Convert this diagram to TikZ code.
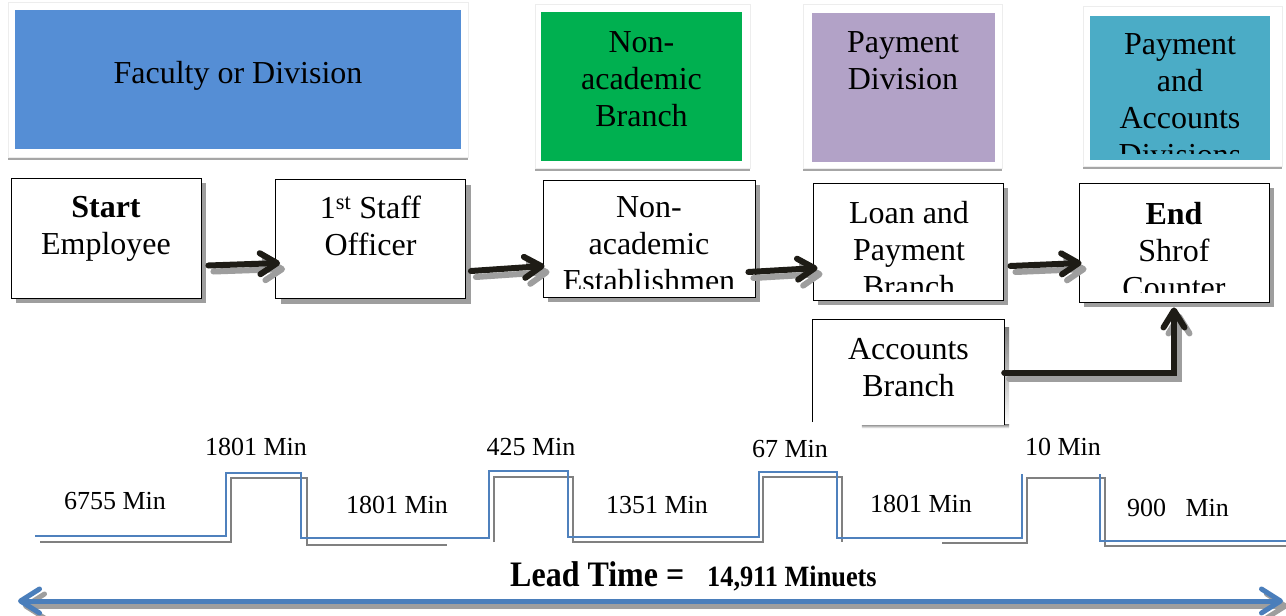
\documentclass[tikz,border=0pt]{standalone}
\usepackage{fontspec}
\usepackage{graphicx}
\setmainfont{Liberation Serif}
\usetikzlibrary{arrows.meta,shadows,calc}

\definecolor{facblue}{RGB}{85,142,213}
\definecolor{nongreen}{RGB}{0,176,80}
\definecolor{paypurple}{RGB}{178,162,199}
\definecolor{accteal}{RGB}{75,172,198}
\definecolor{lineblue}{RGB}{79,129,189}
\definecolor{arrowblue}{RGB}{74,126,187}
\definecolor{inkblack}{RGB}{30,28,22}
\definecolor{shade}{RGB}{158,158,158}
\definecolor{stepshade}{RGB}{128,128,128}

\newcommand\topstrut{\rule{0pt}{24pt}}

\begin{document}
\begin{tikzpicture}[x=1pt,y=-1pt,
  hdrframe/.style={draw=black!7, fill=white, inner sep=0pt,
    drop shadow={shadow xshift=0pt, shadow yshift=-3pt, fill=black!35, opacity=1}},
  hdrfill/.style={inner sep=0pt, draw=none},
  procbox/.style={draw=black, line width=0.9pt, fill=white, inner sep=0pt,
    drop shadow={shadow xshift=5pt, shadow yshift=-5pt, fill=shade, opacity=1}},
  boxline/.style={draw=black, line width=0.9pt},
  bigtext/.style={font=\fontsize{32}{37}\selectfont, inner sep=0pt, align=center,
    anchor=north, execute at begin node=\topstrut},
  mintext/.style={font=\fontsize{26}{30}\selectfont, inner sep=0pt, anchor=base},
  leadtext/.style={inner sep=0pt, anchor=base west},
  flow/.style={draw=inkblack, line width=6pt, line cap=round,
    -{Straight Barb[round,length=17pt,width=21pt]}},
  flowshade/.style={flow, draw=shade},
  stepblue/.style={draw=lineblue, line width=1.8pt},
  stepgray/.style={draw=stepshade, line width=1.8pt},
  leadarrow/.style={draw=arrowblue, line width=5pt,
    {Straight Barb[round,length=19pt,width=24pt]}-{Straight Barb[round,length=19pt,width=24pt]}},
  leadshade/.style={leadarrow, draw=shade}
]
\useasboundingbox[fill=white] (0,0) rectangle (1286,616);

% ---------- organisational units (top band) ----------
\node[hdrframe, minimum width=460pt, minimum height=155pt] (facF) at (238,79.5) {};
\node[hdrfill, fill=facblue, minimum width=446pt, minimum height=139pt] (fac) at (238,79.5) {};
\node[bigtext] (facT) at (238,59) {Faculty or Division};

\node[hdrframe, minimum width=215pt, minimum height=164pt] (nonF) at (642.5,86) {};
\node[hdrfill, fill=nongreen, minimum width=201pt, minimum height=149pt] (non) at (641.5,86.5) {};
\node[bigtext] (nonT) at (641.5,31) {Non-\\academic\\Branch};

\node[hdrframe, minimum width=199pt, minimum height=164pt] (payF) at (902.5,86) {};
\node[hdrfill, fill=paypurple, minimum width=183pt, minimum height=149pt] (pay) at (903.5,87.5) {};
\node[bigtext] (payT) at (903,31) {Payment\\Division};

\node[hdrframe, minimum width=199pt, minimum height=160pt] (paccF) at (1182.5,86) {};
\node[hdrfill, fill=accteal, minimum width=180pt, minimum height=144pt] (pacc) at (1180,88) {};
\begin{scope}
  \clip (1090,16) rectangle (1270,153);
  \node[bigtext] (paccT) at (1180,33) {Payment\\and\\Accounts\\Divisions};
\end{scope}

% ---------- process steps ----------
\node[procbox, minimum width=190pt, minimum height=120pt] (start) at (106,238) {};
\node[bigtext] (startT) at (106,196) {\textbf{Start}\\Employee};

\node[procbox, minimum width=190pt, minimum height=119pt] (staff) at (370.5,239) {};
\node[bigtext] (staffT) at (370.5,196) {1\textsuperscript{st} Staff\\Officer};

\node[procbox, minimum width=212pt, minimum height=117pt] (nacad) at (649,238.5) {};
\begin{scope}
  \clip (543,180) rectangle (755,288);
  \node[bigtext] (nacadT) at (649,196) {Non-\\academic\\Establishmen};
\end{scope}

\node[procbox, minimum width=190pt, minimum height=117pt] (loan) at (908,241.5) {};
\begin{scope}
  \clip (813,183) rectangle (1003,291);
  \node[bigtext] (loanT) at (909,201) {Loan and\\Payment\\Branch};
\end{scope}

\node[procbox, minimum width=190pt, minimum height=119pt] (end) at (1174,242.5) {};
\begin{scope}
  \clip (1079,183) rectangle (1269,292);
  \node[bigtext] (endT) at (1174,202) {\textbf{End}\\Shrof\\Counter};
\end{scope}

% accounts branch: open at the bottom
\node[inner sep=0pt, minimum width=191pt, minimum height=105pt] (acc) at (908.5,372.5) {};
\fill[shade] ($(acc.north east)+(0,8)$) rectangle ($(acc.south east)+(5,0)$);
\fill[shade] ($(acc.south east)+(5,-1)$) rectangle ($(acc.south west)+(49,3)$);
\fill[white] (acc.north west) rectangle (acc.south east);
\draw[boxline] ($(acc.south west)+(0,-3)$) -- (acc.north west) -- (acc.north east) -- (acc.south east);
\node[bigtext] (accT) at (908.5,338) {Accounts\\Branch};

% ---------- flow arrows ----------
\begin{scope}[transform canvas={xshift=5pt,yshift=-6pt}]
  \draw[flowshade] ([shift={(7,27.5)}]start.east) -- ([shift={(5,24)}]staff.west);
  \draw[flowshade] ([shift={(5,32)}]staff.east) -- ([shift={(2,27.5)}]nacad.west);
  \draw[flowshade] ([shift={(-7,33.5)}]nacad.east) -- ([shift={(5,26.5)}]loan.west);
  \draw[flowshade] ([shift={(7,24.5)}]loan.east) -- ([shift={(3,20.5)}]end.west);
  \draw[flowshade] (acc.east) -| ([yshift=-5]end.south);
\end{scope}
\draw[flow] ([shift={(7,27.5)}]start.east) -- ([shift={(5,24)}]staff.west);
\draw[flow] ([shift={(5,32)}]staff.east) -- ([shift={(2,27.5)}]nacad.west);
\draw[flow] ([shift={(-7,33.5)}]nacad.east) -- ([shift={(5,26.5)}]loan.west);
\draw[flow] ([shift={(7,24.5)}]loan.east) -- ([shift={(3,20.5)}]end.west);
\draw[flow] (acc.east) -| ([yshift=-5]end.south);

% ---------- time line ----------
\draw[stepgray] (40,542) -- (231,542) -- (231,478) -- (307,478) -- (307,545) -- (447,545);
\draw[stepgray] (494,542) -- (494,477) -- (573,477) -- (573,542) -- (763,542)
  -- (763,477) -- (842,477) -- (842,542);
\draw[stepgray] (942,543) -- (1027,543) -- (1027,478) -- (1105,478) -- (1105,546) -- (1286,546);

\draw[stepblue] (35,536) -- (226,536) -- (226,473) -- (301,473) -- (301,538) -- (489,538)
  -- (489,471) -- (568,471) -- (568,537) -- (759,537) -- (759,472) -- (837,472)
  -- (837,538) -- (1022,538) -- (1022,474);
\draw[stepblue] (1100,474) -- (1100,541) -- (1286,541);

\node[mintext] (w1) at (115,509) {6755 Min};
\node[mintext] (p1) at (256,455) {1801 Min};
\node[mintext] (w2) at (397,513) {1801 Min};
\node[mintext] (p2) at (531,455) {425 Min};
\node[mintext] (w3) at (657,513) {1351 Min};
\node[mintext] (p3) at (790,457) {67 Min};
\node[mintext] (w4) at (921,512) {1801 Min};
\node[mintext] (p4) at (1063,455) {10 Min};
\node[mintext] (w5) at (1178,516) {900\ \ \ Min};

% ---------- lead time ----------
\node[leadtext, font=\fontsize{32}{37}\selectfont\bfseries] (leadL) at (510,586)
  {\scalebox{1}[1.12]{Lead Time =}};
\node[leadtext, font=\fontsize{26.3}{30}\selectfont\bfseries] (leadV) at (707,586)
  {\scalebox{1}[1.12]{14,911 Minuets}};

\coordinate (ltL) at (18,601);
\coordinate (ltR) at (1283,601);
\begin{scope}[transform canvas={xshift=5pt,yshift=-5pt}]
  \draw[leadshade] (ltL) -- (ltR);
\end{scope}
\draw[leadarrow] (ltL) -- (ltR);
\end{tikzpicture}
\end{document}
